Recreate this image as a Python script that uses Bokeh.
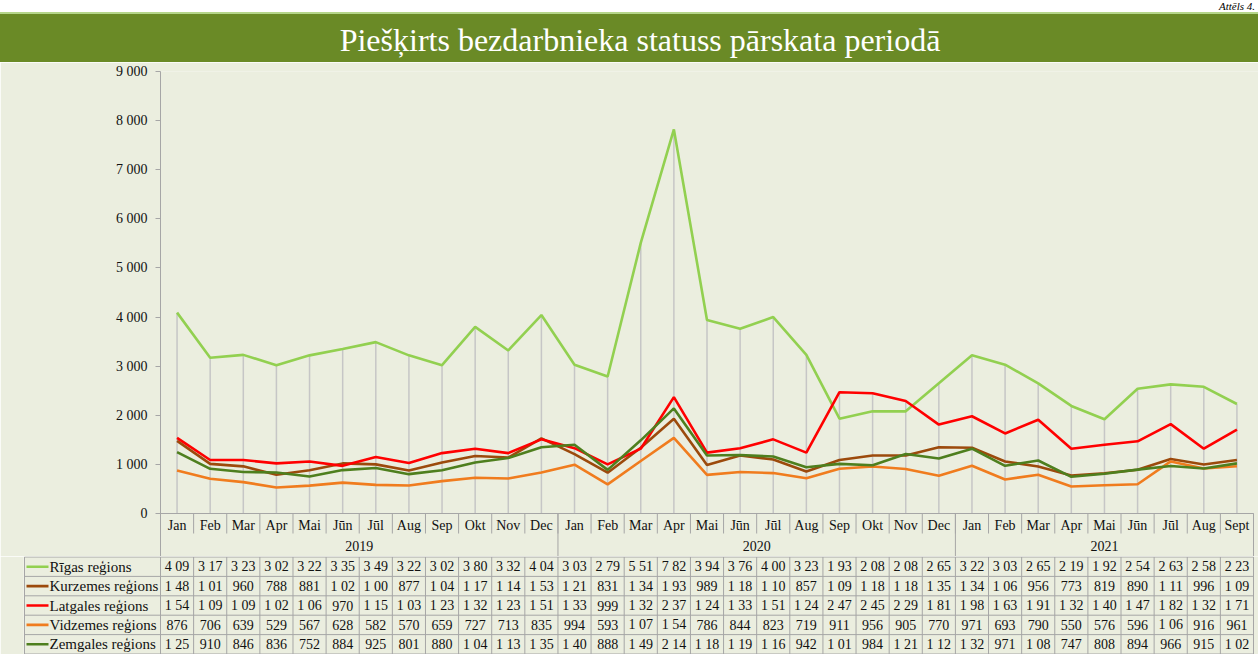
from bokeh.plotting import figure
from bokeh.models import Range1d, FixedTicker, Div
from bokeh.layouts import column
from bokeh.core.properties import value
from bokeh.embed import file_html
from bokeh.resources import INLINE

# ---------------- data ----------------
TITLE = "Piešķirts bezdarbnieka statuss pārskata periodā"
CAPTION = "Attēls 4."
months = ["Jan", "Feb", "Mar", "Apr", "Mai", "Jūn", "Jūl", "Aug", "Sep", "Okt", "Nov", "Dec",
          "Jan", "Feb", "Mar", "Apr", "Mai", "Jūn", "Jūl", "Aug", "Sep", "Okt", "Nov", "Dec",
          "Jan", "Feb", "Mar", "Apr", "Mai", "Jūn", "Jūl", "Aug", "Sept"]
years = ["2019", "2020", "2021"]
year_counts = [12, 12, 9]
regions = ["Rīgas reģions", "Kurzemes reģions", "Latgales reģions", "Vidzemes reģions", "Zemgales reģions"]
riga = [4090, 3170, 3230, 3020, 3220, 3350, 3490, 3220, 3020, 3800, 3320, 4040,
        3030, 2790, 5510, 7820, 3940, 3760, 4000, 3230, 1930, 2080, 2080, 2650,
        3220, 3030, 2650, 2190, 1920, 2540, 2630, 2580, 2230]
kurzeme = [1480, 1010, 960, 788, 881, 1020, 1000, 877, 1040, 1170, 1140, 1530,
           1210, 831, 1340, 1930, 989, 1180, 1100, 857, 1090, 1180, 1180, 1350,
           1340, 1060, 956, 773, 819, 890, 1110, 996, 1090]
latgale = [1540, 1090, 1090, 1020, 1060, 970, 1150, 1030, 1230, 1320, 1230, 1510,
           1330, 999, 1320, 2370, 1240, 1330, 1510, 1240, 2470, 2450, 2290, 1810,
           1980, 1630, 1910, 1320, 1400, 1470, 1820, 1320, 1710]
vidzeme = [876, 706, 639, 529, 567, 628, 582, 570, 659, 727, 713, 835,
           994, 593, 1070, 1540, 786, 844, 823, 719, 911, 956, 905, 770,
           971, 693, 790, 550, 576, 596, 1060, 916, 961]
zemgale = [1250, 910, 846, 836, 752, 884, 925, 801, 880, 1040, 1130, 1350,
           1400, 888, 1490, 2140, 1180, 1190, 1160, 942, 1010, 984, 1210, 1120,
           1320, 971, 1080, 747, 808, 894, 966, 915, 1020]
y_ticks = [0, 1000, 2000, 3000, 4000, 5000, 6000, 7000, 8000, 9000]

series = [riga, kurzeme, latgale, vidzeme, zemgale]
colors = ["#92D050", "#9C4A0C", "#FF0000", "#F07C1E", "#4E7F1E"]

# ---------------- style ----------------
BG = "#EBEEDF"
GRID = "#A6A6A6"
DROP = "#C6C6C6"
W = 1258
LEFT = 160          # frame left (px)
RIGHT_PAD = 5
CAT = (W - LEFT - RIGHT_PAD) / 33.0
ZERO_PX = 442       # px from frame top to y=0
FRAME_H = 485
U = 9000 / ZERO_PX  # data units per px

FONT_NAME = "'Liberation Serif'"
FONT = value(FONT_NAME)

n = len(months)
idx = list(range(n))


def fmt(v):
    return f"{v:,}".replace(",", " ")


# ---------------- title ----------------
title_div = Div(
    text=(
        f'<div style="position:relative;width:{W}px;height:62px;overflow:hidden;">'
        '<div style="height:12px;background:#ffffff;position:relative;">'
        '<div style="position:absolute;right:3px;top:0px;font-family:\'Liberation Serif\';'
        f'font-style:italic;font-size:11px;line-height:12px;color:#000;">{CAPTION}</div></div>'
        '<div style="height:2px;background:#B5D68A;"></div>'
        '<div style="height:48px;background:#6A8A26;color:#ffffff;font-family:\'Liberation Serif\';'
        'font-size:32px;line-height:44px;padding-top:4px;text-align:center;padding-left:22px;'
        f'box-sizing:border-box;">{TITLE}</div>'
        '</div>'
    ),
    width=W, height=62, margin=(0, 0, 0, 0),
)

# ---------------- chart ----------------
x_end = -0.5 + (W - LEFT) / CAT
y_start = -(FRAME_H - ZERO_PX) * U
p = figure(width=W, height=494, x_range=Range1d(-0.5, x_end), y_range=Range1d(y_start, 9000),
           output_backend="svg", toolbar_location=None, x_axis_location=None,
           min_border_left=LEFT, min_border_right=0, min_border_top=9, min_border_bottom=0,
           background_fill_color=BG, border_fill_color=BG, outline_line_color=None,
           frame_align=False)
p.grid.visible = False
ya = p.yaxis[0]
ya.ticker = FixedTicker(ticks=y_ticks)
ya.major_label_overrides = {t: fmt(t) for t in y_ticks}
ya.major_label_text_font = FONT_NAME
ya.major_label_text_font_size = "14px"
ya.major_label_text_color = "#111111"
ya.major_label_standoff = 8
ya.axis_line_color = GRID
ya.major_tick_line_color = GRID
ya.major_tick_out = 5
ya.major_tick_in = 0
ya.minor_tick_line_color = None

# drop lines
maxv = [max(s[i] for s in series) for i in idx]
p.segment(x0=idx, y0=[0] * n, x1=idx, y1=maxv, line_color=DROP, line_width=1.5)

# series lines
for s, c in zip(series, colors):
    p.line(idx, s, line_color=c, line_width=2.6)

# category axis line and separators
p.segment(x0=[-0.5], y0=[0], x1=[n - 0.5], y1=[0], line_color=GRID, line_width=1)
sep_x = [k - 0.5 for k in range(1, n + 1)]
p.segment(x0=sep_x, y0=[0] * n, x1=sep_x, y1=[-20 * U] * n, line_color=GRID, line_width=1)
bounds = []
acc = 0
for c in year_counts:
    acc += c
    bounds.append(acc - 0.5)
p.segment(x0=bounds, y0=[0] * len(bounds), x1=bounds, y1=[y_start] * len(bounds),
          line_color=GRID, line_width=1)

p.text(x=idx, y=[-11.5 * U] * n, text=months, text_font=FONT, text_font_size="14px",
       text_align="center", text_baseline="middle", text_color="#111111")
year_x = []
acc = 0
for c in year_counts:
    year_x.append(acc + (c - 1) / 2)
    acc += c
p.text(x=year_x, y=[-32 * U] * len(years), text=years, text_font=FONT, text_font_size="14px",
       text_align="center", text_baseline="middle", text_color="#111111")

# ---------------- table ----------------
T_LEFT = 23
TH = 98
ROW = (TH - 1) / 5
tx0 = -0.5 - (LEFT - T_LEFT) / CAT
tx1 = -0.5 + (W - LEFT) / CAT
ty1 = 5 + 0.5 / ROW
ty0 = ty1 - TH / ROW
t = figure(width=W, height=TH, x_range=Range1d(tx0, tx1), y_range=Range1d(ty0, ty1),
           output_backend="svg", toolbar_location=None, x_axis_location=None, y_axis_location=None,
           min_border_left=T_LEFT, min_border_right=0, min_border_top=0, min_border_bottom=0,
           background_fill_color=BG, border_fill_color=BG, outline_line_color=None,
           frame_align=False)
t.grid.visible = False
lb = tx0 + 1 / CAT
rows_y = [0, 1, 2, 3, 4, 5]
t.segment(x0=[lb] * 6, y0=rows_y, x1=[n - 0.5] * 6, y1=rows_y, line_color=GRID, line_width=1)
vx = [lb] + [k - 0.5 for k in range(n + 1)]
t.segment(x0=vx, y0=[0] * len(vx), x1=vx, y1=[5] * len(vx), line_color=GRID, line_width=1)

for r, (name, s, c) in enumerate(zip(regions, series, colors)):
    yc = 4.5 - r
    t.segment(x0=[lb + 2 / CAT], y0=[yc], x1=[lb + 24 / CAT], y1=[yc], line_color=c, line_width=2.6)
    t.text(x=[lb + 25 / CAT], y=[yc], text=[name], text_font=FONT, text_font_size="15px",
           text_align="left", text_baseline="middle", text_color="#111111")
    t.text(x=idx, y=[yc] * n, text=[fmt(v)[:4] for v in s], text_font=FONT, text_font_size="14px",
           text_align="center", text_baseline="middle", text_color="#111111")

layout = column(title_div, p, t, spacing=0)
open("out.html", "w").write(file_html(layout, INLINE))
